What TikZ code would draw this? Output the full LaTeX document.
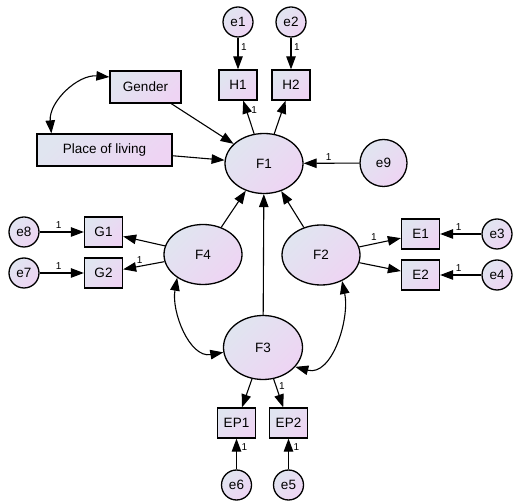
\documentclass[tikz,border=0pt]{standalone}
\usepackage{fontspec}
\setmainfont{Liberation Sans}
\usetikzlibrary{arrows.meta,shapes.geometric,positioning}
\usepackage{xcolor}

\definecolor{amosA}{RGB}{224,229,240}
\definecolor{amosB}{RGB}{238,212,243}

\begin{document}
\begin{tikzpicture}[x=1pt,y=1pt,->,>={Triangle[length=13pt,width=9.5pt]},line width=1.1pt,
                    node distance=62pt,font=\fontsize{13.5}{15}\selectfont]
  \tikzstyle{amosfill}=[draw,line width=1.3pt,top color=amosA,bottom color=amosB,shading angle=45]
  \tikzstyle{obs}=[amosfill,rectangle,minimum width=38pt,minimum height=30pt,inner sep=0pt]
  \tikzstyle{latent}=[amosfill,ellipse,minimum width=78pt,minimum height=60pt,inner sep=0pt]
  \tikzstyle{err}=[amosfill,circle,minimum size=30pt,inner sep=0pt]
  \tikzstyle{one}=[font=\fontsize{10}{12}\selectfont,inner sep=2.5pt]

  \useasboundingbox (0,0) rectangle (513,500);

  \node[latent] (F1) at (264,336.5) {F1};
  \node[latent] (F4) at (203,245.5) {F4};
  \node[latent] (F2) at (321,245) {F2};
  \node[latent,minimum width=79pt,minimum height=64pt] (F3) at (263,152.5) {F3};

  \node[obs] (H1) at (238,415) {H1};
  \node[obs] (H2) at (291,415) {H2};
  \node[obs,minimum width=71pt,minimum height=32pt] (Gen) at (145.5,413) {Gender};
  \node[obs,minimum width=135pt,minimum height=32pt] (Place) at (104.5,350) {Place of living};
  \node[obs] (G1) at (103.5,268) {G1};
  \node[obs] (G2) at (103.5,227) {G2};
  \node[obs] (E1) at (420.5,266) {E1};
  \node[obs] (E2) at (420.5,225) {E2};
  \node[obs] (EP1) at (236.5,77) {EP1};
  \node[obs] (EP2) at (288.5,77) {EP2};

  \node[err] (e1) [above of=H1,node distance=63pt] {e1};
  \node[err] (e2) [above of=H2,node distance=63pt] {e2};
  \node[err,minimum size=47pt] (e9) at (383.5,337) {e9};
  \node[err] (e8) [left of=G1,node distance=79.5pt] {e8};
  \node[err] (e7) [left of=G2,node distance=79.5pt] {e7};
  \node[err] (e3) [right of=E1,node distance=76.5pt] {e3};
  \node[err] (e4) [right of=E2,node distance=76.5pt] {e4};
  \node[err] (e6) [below of=EP1] {e6};
  \node[err] (e5) [below of=EP2] {e5};

  \path (e1) edge node[one,right,pos=0.3] {1} (H1)
        (e2) edge node[one,right,pos=0.3] {1} (H2)
        (F1) edge node[one,right=2pt,pos=0.72] {1} (H1)
             edge (H2)
        (Gen) edge (F1)
        (Place) edge (F1)
        (e9) edge node[one,above,pos=0.55] {1} (F1)
        (F4) edge (F1)
             edge (G1)
             edge node[one,above,pos=0.6] {1} (G2)
        (F2) edge (F1)
             edge node[one,above,pos=0.35] {1} (E1)
             edge (E2)
        (F3) edge (F1)
             edge (EP1)
             edge node[one,right,pos=0.25] {1} (EP2)
        (e8) edge node[one,above,pos=0.43] {1} (G1)
        (e7) edge node[one,above,pos=0.43] {1} (G2)
        (e3) edge node[one,above,pos=0.55] {1} (E1)
        (e4) edge node[one,above,pos=0.55] {1} (E2)
        (e6) edge node[one,right=2pt,pos=0.72] {1} (EP1)
        (e5) edge node[one,right=2pt,pos=0.72] {1} (EP2);

  % covariances
  \draw[<->] ([yshift=10pt]Gen.west) to[out=175,in=95] ([xshift=15pt]Place.north west);
  \draw[<->] (F4.-138) to[out=-100,in=190] (F3.187);
  \draw[<->] (F2.-51) to[out=-78,in=-15] (F3.-31);
\end{tikzpicture}
\end{document}
